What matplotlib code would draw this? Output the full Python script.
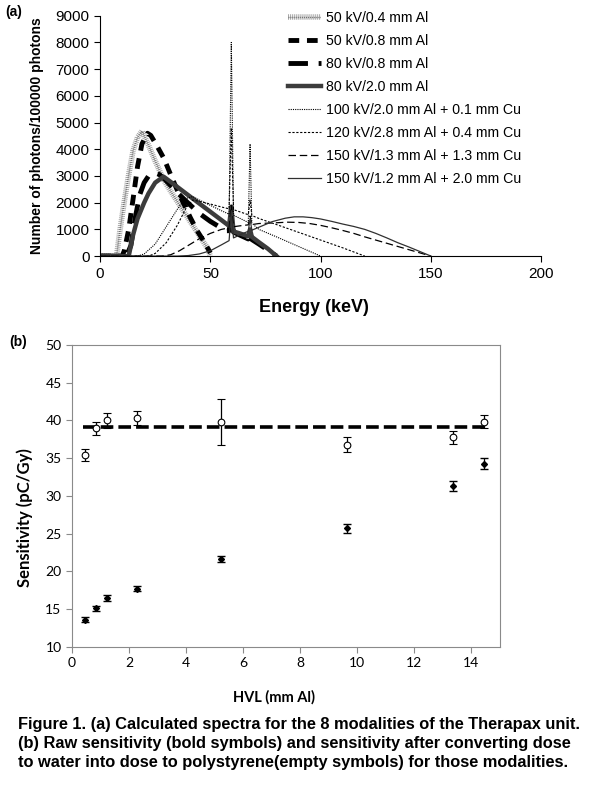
import matplotlib
matplotlib.use("Agg")
import matplotlib.pyplot as plt
import matplotlib.patheffects as pe

plt.rcParams['font.family'] = ['Liberation Sans', 'DejaVu Sans']

# ---- (a) spectra: energy (keV) and photons per 100000 photons ----
e_50_04 = [0, 7.5, 9, 11, 13, 15, 17, 19, 22, 25, 29, 33, 37, 41, 45, 49, 50]
n_50_04 = [0, 0, 950, 2050, 3050, 3950, 4450, 4680, 4150, 3560, 2830, 2300, 1790, 1280, 770, 260, 0]

e_50_08 = [0, 10, 11, 13, 15, 17, 19, 21.5, 23, 26, 29, 32, 35, 38, 41, 44, 47, 50]
n_50_08 = [0, 0, 200, 1000, 2150, 3350, 4200, 4600, 4520, 4100, 3650, 3050, 2470, 1950, 1430, 950, 560, 120]

e_80_08 = [0, 12, 14, 16, 18, 20, 22, 24.5, 27, 30, 35, 40, 45, 50, 54, 57.5, 58.5, 59.5, 60.5,
           63, 67.2, 68, 68.8, 72, 76, 80]
n_80_08 = [0, 0, 400, 1450, 2300, 2750, 3000, 3130, 3050, 2820, 2380, 1980, 1600, 1300, 1100, 950,
           950, 1500, 900, 800, 640, 900, 620, 450, 230, 0]

e_80_20 = [0, 13, 15, 17, 20, 22, 25, 28.8, 32, 36, 40, 45, 50, 55, 58.5, 59.5, 60.5, 63, 67.2,
           68, 68.8, 72, 76, 80]
n_80_20 = [0, 0, 800, 1400, 2000, 2350, 2750, 2975, 2780, 2530, 2280, 1970, 1660, 1350, 1130,
           1850, 920, 860, 740, 1000, 720, 520, 280, 0]

e_100 = [0, 17, 20, 25, 30, 35, 38.5, 42, 46, 50, 55, 58.5, 59.5, 60.5, 64, 67.2, 68, 68.8, 72,
         80, 90, 100]
n_100 = [0, 0, 80, 450, 1100, 1750, 2150, 2230, 2060, 1900, 1700, 1570, 8000, 1530, 1390, 1260,
         4200, 1230, 1000, 720, 360, 0]

e_120 = [0, 22, 25, 30, 35, 39, 42, 46, 50, 55, 58.5, 59.5, 60.5, 64, 67.2, 68, 68.8, 72, 80, 90,
         100, 110, 120]
n_120 = [0, 0, 100, 500, 1150, 1800, 2100, 2030, 1950, 1840, 1770, 4800, 1740, 1640, 1550, 2100,
         1520, 1410, 1180, 890, 600, 310, 0]

e_150_13 = [0, 28, 32, 36, 40, 45, 50, 55, 58.5, 59.5, 60.5, 64, 67.2, 68, 68.8, 72, 78, 85, 90,
            95, 100, 105, 110, 115, 120, 125, 130, 135, 140, 145, 150]
n_150_13 = [0, 0, 50, 200, 400, 650, 850, 1000, 1060, 1900, 1100, 1140, 1170, 1500, 1180, 1220,
            1240, 1270, 1260, 1220, 1150, 1060, 960, 850, 720, 600, 480, 360, 240, 120, 0]

e_150_20 = [0, 35, 40, 45, 50, 55, 58.5, 59.5, 60.5, 64, 67.2, 68, 68.8, 72, 78, 84, 88, 92, 96,
            100, 105, 110, 115, 120, 125, 130, 135, 140, 145, 150]
n_150_20 = [0, 0, 20, 80, 200, 420, 580, 1700, 680, 820, 930, 1400, 970, 1080, 1290, 1420, 1470,
            1470, 1440, 1390, 1300, 1200, 1110, 1000, 850, 680, 500, 340, 170, 0]

labels = ["50 kV/0.4 mm Al", "50 kV/0.8 mm Al", "80 kV/0.8 mm Al", "80 kV/2.0 mm Al",
          "100 kV/2.0 mm Al + 0.1 mm Cu", "120 kV/2.8 mm Al + 0.4 mm Cu",
          "150 kV/1.3 mm Al + 1.3 mm Cu", "150 kV/1.2 mm Al + 2.0 mm Cu"]

# ---- (b) sensitivity vs HVL ----
hvl = [0.46, 0.84, 1.22, 2.27, 5.21, 9.63, 13.36, 14.43]
sens_raw = [13.6, 15.1, 16.5, 17.7, 21.6, 25.7, 31.3, 34.3]
err_raw = [0.35, 0.35, 0.4, 0.35, 0.4, 0.6, 0.7, 0.75]
sens_poly = [35.4, 38.95, 40.0, 40.35, 39.8, 36.8, 37.8, 39.85]
err_poly = [0.8, 0.9, 1.0, 0.95, 3.0, 1.0, 0.85, 0.9]
mean_poly = 39.1
mean_span = [0.4, 14.5]

fig = plt.figure(figsize=(6, 7.88), dpi=100)

# ---------------- panel (a) ----------------
ax1 = fig.add_axes([0.1667, 0.675, 0.7355, 0.305])
hatch = [pe.Stroke(linewidth=4, foreground='#a6a6a6'), pe.Normal()]
ax1.plot(e_50_04, n_50_04, color='#707070', lw=1.0, ls=(0, (0.7, 0.7)),
         path_effects=hatch, label=labels[0])
ax1.plot(e_50_08, n_50_08, color='black', lw=3.5, ls=(0, (2.2, 1.6)), label=labels[1])
ax1.plot(e_80_08, n_80_08, color='black', lw=3.5, ls=(0, (4, 2.2)), label=labels[2])
ax1.plot(e_80_20, n_80_20, color='#3c3c3c', lw=3.2, label=labels[3])
ax1.plot(e_100, n_100, color='black', lw=0.8, ls=(0, (1, 1)), label=labels[4])
ax1.plot(e_120, n_120, color='black', lw=0.8, ls=(0, (2, 1.5)), label=labels[5])
ax1.plot(e_150_13, n_150_13, color='black', lw=0.9, ls=(0, (6, 3)), label=labels[6])
ax1.plot(e_150_20, n_150_20, color='#303030', lw=0.9, label=labels[7])

ax1.set_xlim(0, 200)
ax1.set_ylim(0, 9000)
ax1.set_xticks(range(0, 201, 50))
ax1.set_yticks(range(0, 9001, 1000))
ax1.spines['top'].set_visible(False)
ax1.spines['right'].set_visible(False)
ax1.tick_params(labelsize=11, length=4, width=0.8)
ax1.set_xlabel("Energy (keV)", fontsize=13, fontweight='bold')
ax1.xaxis.set_label_coords(0.485, -0.18)
ax1.set_ylabel("Number of photons/100000 photons", fontsize=10, fontweight='bold', labelpad=8)
ax1.legend(loc='upper left', bbox_to_anchor=(0.48, 0.986), bbox_transform=fig.transFigure,
           frameon=False, fontsize=10.2, handlelength=2.35, handletextpad=0.3,
           labelspacing=0.63, borderpad=0, borderaxespad=0)
fig.text(0.008, 0.985, "(a)", fontsize=10, fontweight='bold', va='center')

# ---------------- panel (b) ----------------
ax2 = fig.add_axes([0.12, 0.179, 0.7133, 0.3832])
ax2.plot(mean_span, [mean_poly, mean_poly], color='black', lw=2.6, ls=(0, (3.5, 1.4)))
ax2.errorbar(hvl, sens_poly, yerr=err_poly, fmt='o', mfc='white', mec='black', mew=0.8,
             ms=4.8, color='black', ecolor='black', elinewidth=0.9, capsize=2.8)
ax2.errorbar(hvl, sens_raw, yerr=err_raw, fmt='D', mfc='black', mec='black', ms=3,
             color='black', ecolor='black', elinewidth=0.9, capsize=2.8)
ax2.set_xlim(0, 15)
ax2.set_ylim(10, 50)
ax2.set_xticks(range(0, 15, 2))
ax2.set_yticks(range(10, 51, 5))
for s in ax2.spines.values():
    s.set_color('#8a8a8a')
ax2.tick_params(labelsize=10, length=4, width=0.8, color='#8a8a8a')
for t in ax2.get_xticklabels() + ax2.get_yticklabels():
    t.set_family('Lato')
ax2.set_xlabel("HVL (mm Al)", fontsize=10.5, fontweight='bold', family='Lato')
ax2.xaxis.set_label_coords(0.472, -0.142)
ax2.set_ylabel("Sensitivity (pC/Gy)", fontsize=12, fontweight='bold', family='Lato')
ax2.yaxis.set_label_coords(-0.091, 0.43)
fig.text(0.015, 0.566, "(b)", fontsize=10, fontweight='bold', va='center')

caption = ["Figure 1. (a) Calculated spectra for the 8 modalities of the Therapax unit.",
           "(b) Raw sensitivity (bold symbols) and sensitivity after converting dose",
           "to water into dose to polystyrene(empty symbols) for those modalities."]
for i, line in enumerate(caption):
    fig.text(0.03, 1 - (724 + 19.5 * i) / 788, line, fontsize=11.8, fontweight='bold',
             va='center')

fig.savefig("out.png", dpi=100)
